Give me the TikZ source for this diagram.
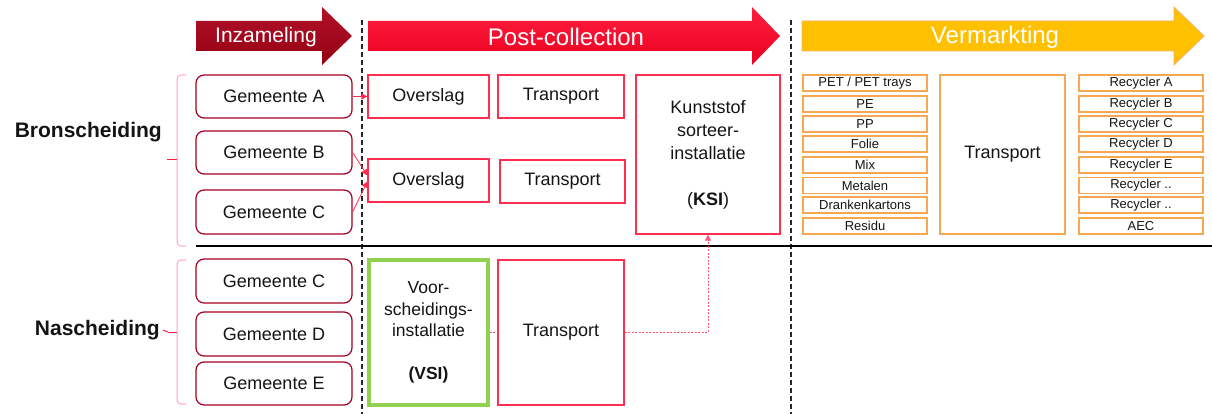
\documentclass[tikz,border=0pt]{standalone}
\usepackage{fontspec}
\setmainfont{Liberation Sans}
\usetikzlibrary{arrows.meta}
\definecolor{gemred}{HTML}{A50021}
\definecolor{pcred}{HTML}{FF2D4F}
\definecolor{vorange}{HTML}{F8A850}
\definecolor{vsigreen}{HTML}{92D050}
\definecolor{bracepink}{HTML}{FFA3B5}
\definecolor{tipred}{HTML}{FF1840}
\definecolor{txt}{HTML}{141414}
\definecolor{inztop}{HTML}{B0122A}
\definecolor{inzbot}{HTML}{960012}
\definecolor{pctop}{HTML}{FF1E3E}
\definecolor{pcbot}{HTML}{EC0020}
\definecolor{vmfill}{HTML}{FFC000}
\definecolor{vmedge}{HTML}{F8B060}
\begin{document}
\begin{tikzpicture}[x=1pt,y=-1pt,
  every node/.style={text=txt, inner sep=0pt, align=center},
  gem/.style={draw=gemred, line width=1.2pt, rounded corners=8pt, minimum width=156pt, minimum height=43pt, font=\fontsize{18}{21}\selectfont},
  pcbox/.style={draw=pcred, line width=1.2pt, font=\fontsize{18}{23}\selectfont},
  vbox/.style={draw=vorange, line width=1.2pt, minimum width=124pt, minimum height=16pt, font=\fontsize{13}{15}\selectfont},
  vsibox/.style={draw=vsigreen, line width=3.5pt, font=\fontsize{17.5}{21.5}\selectfont},
  phase/.style={text=white, font=\fontsize{24}{28}\selectfont},
  side/.style={font=\bfseries\fontsize{21}{25}\selectfont, anchor=east},
  conn/.style={draw=pcred, line width=0.8pt, -{Triangle[length=6pt,width=6pt]}},
  dotconn/.style={draw=pcred!80!white, line width=0.9pt, dash pattern=on 2pt off 1.5pt},
  brace/.style={draw=bracepink, line width=1pt},
  bracetip/.style={draw=tipred, line width=1pt},
  sep/.style={draw=black!85, line width=1.2pt, dash pattern=on 5pt off 3pt}
]
\useasboundingbox (0,0) rectangle (1212,414);

% phase arrows
\shade[top color=inztop, bottom color=inzbot]
  (196,21) -- (322,21) -- (322,7) -- (352,36) -- (322,65) -- (322,51) -- (196,51) -- cycle;
\node[phase, font=\fontsize{21}{25}\selectfont] (inz) at (266,37) {Inzameling};
\shade[top color=pctop, bottom color=pcbot]
  (368,21) -- (752,21) -- (752,7) -- (780,36) -- (752,65) -- (752,51) -- (368,51) -- cycle;
\node[phase] (pc) at (566,37) {Post-collection};
\filldraw[fill=vmfill, draw=vmedge, line width=0.8pt]
  (802,21) -- (1174,21) -- (1174,7) -- (1204,36) -- (1174,65) -- (1174,51) -- (802,51) -- cycle;
\node[phase] (vm) at (995,37) {Vermarkting};

% separators
\draw[sep] (362,20) -- (362,414);
\draw[sep] (791,20) -- (791,414);
\draw[black, line width=2pt] (196,246) -- (1212,246);

% side labels and braces
\node[side] (bron) at (162,132) {Bronscheiding};
\node[side] (nas) at (160,330) {Nascheiding};
\coordinate (bt) at (167,160);
\coordinate (nt) at (168,332);
\draw[brace, rounded corners=4pt] (186,75) -- (177,75) -- (177,246) -- (186,246);
\draw[bracetip] (177,160) -- (bt);
\draw[brace, rounded corners=4pt] (186,260) -- (177,260) -- (177,404) -- (186,404);
\draw[bracetip] (177,332) -- (nt);
\draw[bracetip] (nas.east) ++(3,0) -- (nt);

% Gemeente boxes
\node[gem] (gA) at (274,96.5) {Gemeente A};
\node[gem] (gB) at (274,152.5) {Gemeente B};
\node[gem, minimum height=44pt] (gC) at (274,212) {Gemeente C};
\node[gem, minimum height=44pt] (gC2) at (274,281) {Gemeente C};
\node[gem, minimum height=44pt] (gD) at (274,334) {Gemeente D};
\node[gem] (gE) at (274,383.5) {Gemeente E};

% post-collection boxes
\node[pcbox, minimum width=121pt, minimum height=43pt] (ov1) at (428.5,96.5) {Overslag};
\node[pcbox, minimum width=126pt, minimum height=43pt] (tr1) at (561,96.5) {Transport};
\node[pcbox, minimum width=121pt, minimum height=43pt] (ov2) at (428.5,180.5) {Overslag};
\node[pcbox, minimum width=125pt, minimum height=43pt] (tr2) at (562.5,181.5) {Transport};
\node[pcbox, minimum width=144pt, minimum height=159pt] (ksi) at (708,154.5) {Kunststof\\sorteer-\\installatie\\[23pt](\textbf{KSI})};
\node[vsibox, minimum width=119pt, minimum height=145pt] (vsi) at (428.5,332.5) {Voor-\\scheidings-\\installatie\\[21.5pt]\textbf{(VSI)}};
\node[pcbox, minimum width=126pt, minimum height=145pt] (tr3) at (561,332.5) {Transport};

% vermarkting boxes
\node[vbox] (m1) at (865,83) {PET / PET trays};
\foreach \t/\y [count=\i from 2] in {PE/104, PP/124, Folie/144, Mix/165, Metalen/185.5, Drankenkartons/205, Residu/226}
  \node[vbox] (m\i) at (865,\y) {\t};
\foreach \t/\y [count=\i] in {Recycler A/83, Recycler B/104, Recycler C/124, Recycler D/144, Recycler E/165, Recycler ../185.5, Recycler ../205, AEC/226}
  \node[vbox] (r\i) at (1141,\y) {\t};
\node[draw=vorange, line width=1.2pt, minimum width=125pt, minimum height=159pt, font=\fontsize{18}{21}\selectfont] (tr4) at (1002.5,154.5) {Transport};

% connectors
\draw[conn] (gA.east) -- (ov1.west);
\draw[conn] (gB.east) -- ([yshift=5pt]ov2.west);
\draw[conn] (gC.east) -- ([yshift=-1pt]ov2.west);
\draw[dotconn] (vsi.east) -- (tr3.west);
\draw[dotconn, -{Triangle[length=6pt,width=6pt]}] (tr3.east) -| (ksi.south);
\end{tikzpicture}
\end{document}
